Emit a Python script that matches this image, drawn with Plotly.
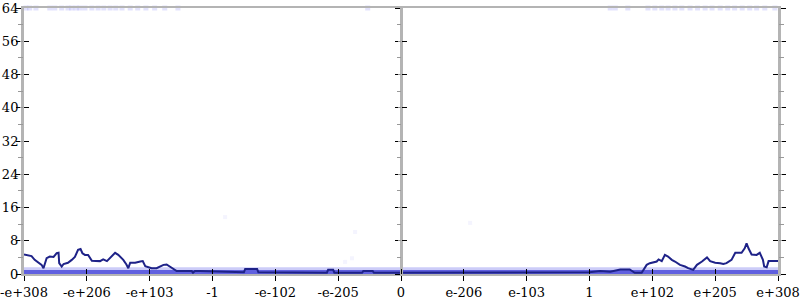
import plotly.graph_objects as go

# tick positions and labels (evenly spaced exponent-like scale)
tick_vals = [-6, -5, -4, -3, -2, -1, 0, 1, 2, 3, 4, 5, 6]
tick_text = ["-e+308", "-e+206", "-e+103", "-1", "-e-102", "-e-205", "0",
             "e-206", "e-103", "1", "e+102", "e+205", "e+308"]
y_ticks = [0, 8, 16, 24, 32, 40, 48, 56, 64]

# main dark line
line_x = [-6.0, -5.88, -5.83, -5.72, -5.69, -5.64, -5.59, -5.53, -5.48, -5.45,
          -5.44, -5.40, -5.37, -5.30, -5.24, -5.19, -5.14, -5.10, -5.07, -5.03,
          -4.98, -4.92, -4.79, -4.74, -4.68, -4.60, -4.55, -4.50, -4.42, -4.37,
          -4.34, -4.31, -4.23, -4.15, -4.11, -4.07, -3.97, -3.89, -3.84, -3.78,
          -3.73, -3.68, -3.62, -3.57, -3.41, -3.33, -3.31, -3.28, -3.20,
          -2.50, -2.48, -2.29, -2.27, -1.18, -1.16, -1.08, -1.06, -0.62, -0.60,
          -0.45, -0.43, 0.0, 1.5, 3.0,
          3.17, 3.33, 3.49, 3.64, 3.72, 3.83, 3.91, 3.96, 4.07, 4.10,
          4.15, 4.20, 4.25, 4.31, 4.36, 4.44, 4.52, 4.57, 4.65, 4.71,
          4.79, 4.87, 4.92, 5.00, 5.08, 5.13, 5.18, 5.26, 5.32, 5.42,
          5.47, 5.50, 5.53, 5.58, 5.66, 5.71, 5.76, 5.78, 5.82, 5.85, 6.0]
line_y = [4.7, 4.3, 3.4, 2.2, 1.4, 3.8, 4.2, 4.1, 5.0, 5.1,
          2.6, 1.8, 2.4, 2.7, 3.4, 4.1, 5.8, 6.0, 5.0, 4.6,
          4.6, 3.2, 3.1, 3.5, 3.1, 4.2, 5.1, 4.6, 3.4, 2.3,
          1.4, 2.7, 2.7, 3.0, 3.1, 1.9, 1.4, 1.4, 1.8, 2.2,
          2.3, 1.8, 1.1, 0.7, 0.7, 0.7, 0.3, 0.7, 0.7,
          0.4, 1.2, 1.2, 0.4, 0.3, 1.0, 1.0, 0.3, 0.3, 0.7,
          0.7, 0.3, 0.3, 0.3, 0.4,
          0.7, 0.55, 1.1, 1.1, 0.3, 0.3, 2.2, 2.6, 3.0, 3.5,
          3.1, 4.6, 4.2, 3.4, 3.0, 2.2, 1.8, 1.4, 1.0, 2.2,
          3.0, 4.0, 3.1, 2.7, 2.6, 2.4, 2.6, 3.4, 5.1, 5.1,
          6.2, 7.4, 6.2, 4.7, 4.6, 5.1, 3.4, 1.8, 1.6, 3.1, 3.1]

# dense light band near zero
band_x = [-6, 6]
band_top = [1.6, 1.6]
band_core = [0.35, 0.35]

# faint points at the top row
top_x = [-5.97, -5.91, -5.81, -5.59, -5.51, -5.40, -5.30, -5.24, -5.17, -5.11,
         -5.03, -4.92, -4.82, -4.73, -4.63, -4.54, -4.44, -4.31, -4.19, -4.06,
         -3.92, -3.76, -3.55, -0.53,
         3.33, 3.41, 3.61, 3.93, 4.04, 4.15, 4.25, 4.36, 4.47, 4.60, 4.72,
         4.84, 4.95, 5.08, 5.20, 5.31, 5.43, 5.55, 5.66, 5.79, 5.95]
top_y = [64] * len(top_x)

# stray faint points
stray_x = [-2.8, -0.73, -0.89, -0.78, 1.1]
stray_y = [13.7, 10.1, 2.9, 3.8, 12.3]

FONT = dict(family="DejaVu Serif", size=13, color="black")
AXCOL = "#b4b4b4"

fig = go.Figure()
fig.add_trace(go.Scatter(x=band_x, y=band_top, mode="lines", fill="tozeroy",
                         line=dict(width=0), fillcolor="rgba(110,110,235,0.35)",
                         hoverinfo="skip", showlegend=False))
fig.add_trace(go.Scatter(x=band_x, y=band_core, mode="lines",
                         line=dict(width=5, color="rgba(60,60,215,0.75)"),
                         hoverinfo="skip", showlegend=False))
fig.add_trace(go.Scatter(x=top_x, y=top_y, mode="markers", cliponaxis=False,
                         marker=dict(symbol="square", size=5, color="rgba(110,110,240,0.2)", line=dict(width=0)),
                         showlegend=False))
fig.add_trace(go.Scatter(x=stray_x, y=stray_y, mode="markers",
                         marker=dict(symbol="square", size=4, color="rgba(120,120,240,0.08)", line=dict(width=0)),
                         showlegend=False))
fig.add_trace(go.Scatter(x=line_x, y=line_y, mode="lines",
                         line=dict(width=2, color="#1e2288"), showlegend=False))

# dummy traces to bind extra axes
for xa, ya in [("x2", "y"), ("x", "y2"), ("x", "y3"), ("x", "y4"), ("x", "y5"), ("x", "y6")]:
    fig.add_trace(go.Scatter(x=[None], y=[None], xaxis=xa, yaxis=ya,
                             showlegend=False, hoverinfo="skip"))

common_y = dict(range=[0, 64], tickvals=y_ticks, showgrid=False, zeroline=False,
                automargin=False,
                ticklen=5, tickcolor="black", tickwidth=1, tickfont=FONT,
                minor=dict(dtick=4, tick0=0, ticklen=3, tickcolor="#999", tickwidth=1,
                           showgrid=False))

fig.update_layout(
    width=800, height=300, margin=dict(l=24, r=22, t=8, b=26),
    plot_bgcolor="white", paper_bgcolor="white", showlegend=False,
    xaxis=dict(range=[-6, 6], tickvals=tick_vals, ticktext=tick_text, showgrid=False,
               automargin=False,
               zeroline=False, ticks="outside", ticklen=5, tickcolor="black",
               tickfont=FONT, showline=True, linecolor=AXCOL, linewidth=2, mirror=True),
    xaxis2=dict(range=[-6, 6], tickvals=tick_vals, overlaying="x", showgrid=False,
                automargin=False,
                zeroline=False, ticks="inside", ticklen=5, tickcolor="black",
                showticklabels=False, anchor="y"),
    yaxis=dict(**common_y, ticks="outside", showline=True, linecolor=AXCOL, linewidth=3,
               ticklabelstandoff=-5),
    yaxis2=dict(**common_y, ticks="inside", overlaying="y", showticklabels=False),
    yaxis3=dict(**common_y, ticks="outside", overlaying="y", anchor="free", position=0.5,
                showticklabels=False, showline=True, linecolor=AXCOL, linewidth=3),
    yaxis4=dict(**common_y, ticks="inside", overlaying="y", anchor="free", position=0.5,
                showticklabels=False),
    yaxis5=dict(**common_y, ticks="outside", overlaying="y", side="right",
                showticklabels=False, showline=True, linecolor=AXCOL, linewidth=3),
    yaxis6=dict(**common_y, ticks="inside", overlaying="y", side="right",
                showticklabels=False),
)

fig.write_html("out.html")
